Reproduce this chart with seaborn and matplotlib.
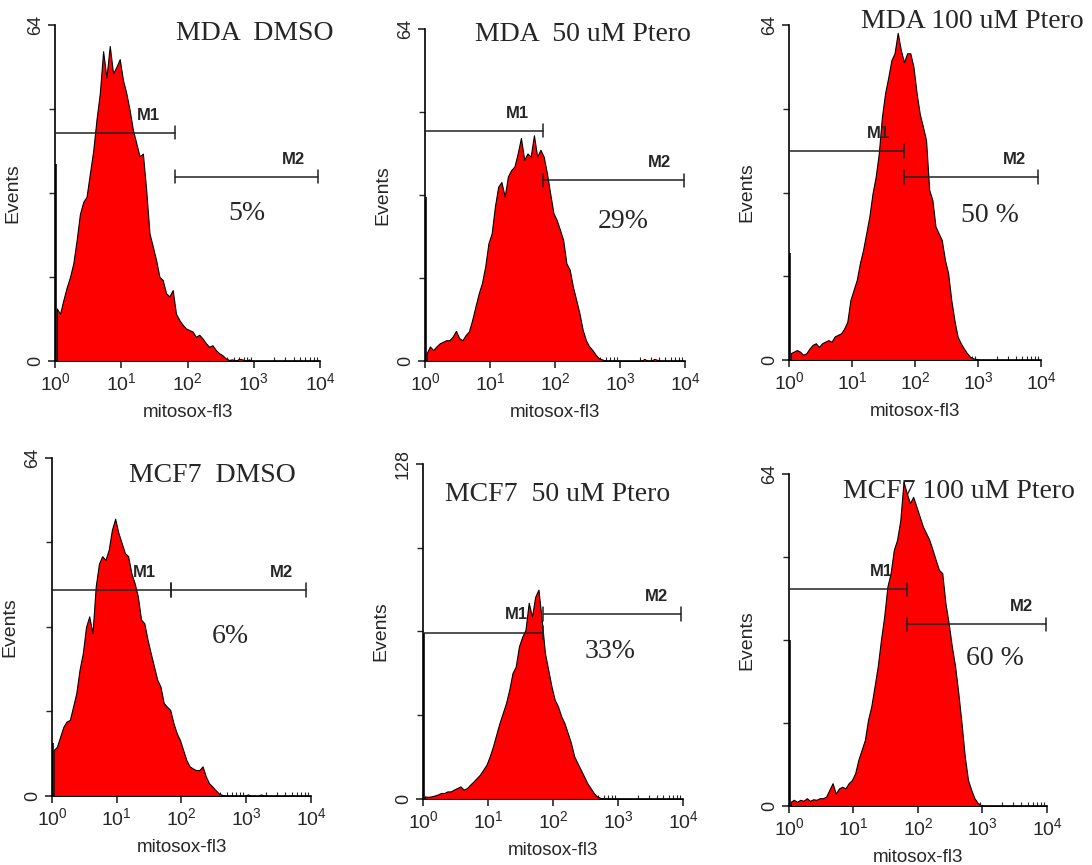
import numpy as np
import seaborn as sns
import matplotlib
matplotlib.use("Agg")
import matplotlib.pyplot as plt
from matplotlib.ticker import LogLocator, FixedLocator, NullFormatter

# ---- data (events per 0.05-decade bin, starting at 10^0) ----
titles = ["MDA  DMSO", "MDA  50 uM Ptero", "MDA 100 uM Ptero",
          "MCF7  DMSO", "MCF7  50 uM Ptero", "MCF7 100 uM Ptero"]
percents = ["5%", "29%", "50 %", "6%", "33%", "60 %"]
ymax = [64, 64, 64, 64, 128, 64]

counts_mda_dmso = [10, 9, 11.6, 14, 16, 18.6, 23, 28, 30.3, 31.3, 35.7, 40, 46, 51, 59, 54,
                   60, 54.8, 56, 57.5, 53.5, 51, 47.8, 44, 41.5, 39, 39.5, 32.6, 24.3, 21.8,
                   19.2, 16, 15.4, 12.9, 12.3, 13.5, 9, 7.8, 6.9, 6.2, 5.9, 5.6, 4.6, 5, 4.3,
                   3.4, 2.7, 3, 2.1, 1.5, 1.1, 0.5, 0.2, 0.3, 0, 0.4, 0.3, 0, 0.3]
counts_mda_50 = [1.5, 2.8, 2.1, 2.8, 3.4, 3.7, 4, 4, 4.7, 5.8, 4.4, 4, 5, 5.7, 7.9, 10.5, 13,
                 15, 18.2, 22.7, 24.6, 29.8, 33.6, 34.5, 31.7, 35.6, 36.8, 37.5, 40, 43, 38.8,
                 40, 39.4, 43.5, 39.4, 40.7, 39.4, 36.2, 32.3, 28.5, 27.2, 25.3, 23.3, 18.8,
                 17.6, 14.3, 11.8, 9.2, 6, 4, 2.8, 2.1, 1.2, 0.5, 0.3, 0, 0, 0, 0, 0, 0, 0,
                 0, 0, 0, 0, 0, 0.4, 0, 0, 0.4, 0.2]
counts_mda_100 = [1.3, 1.6, 1.9, 1.6, 1, 1.3, 2.2, 2.9, 3.2, 2.5, 3.2, 3.5, 3.8, 3.5, 4.5,
                  4.8, 5.1, 6, 7.3, 11.5, 13.4, 15.3, 18.5, 21, 24.2, 27.4, 31.8, 35, 39.5,
                  46.5, 51, 54, 57.3, 58.6, 62.5, 59.2, 56.9, 58.6, 58.6, 56, 51, 47, 44.6,
                  42, 32.5, 30.6, 25.5, 24.2, 22.9, 19.1, 16.6, 11.5, 7.6, 4.5, 3.2, 2.2, 1.3,
                  0.6, 0.3, 0.2]
counts_mcf7_dmso = [8.7, 9.3, 11.2, 13.1, 14.1, 14.4, 16.9, 19.5, 23.9, 27, 32, 34, 30.8,
                    39.7, 44, 45.4, 44.7, 46.6, 50.4, 52.5, 49.8, 47.9, 46, 45.4, 42.2, 40.3,
                    37.8, 33.4, 32.7, 29.6, 27, 24.5, 22, 20.7, 17.6, 16.9, 16.3, 13.8, 11.9,
                    10.6, 8.7, 6.8, 5.6, 5.2, 4.9, 4.9, 5.6, 3.7, 2.4, 1.8, 1.1, 0.5, 0.2, 0,
                    0, 0, 0, 0, 0, 0, 0.3, 0, 0, 0, 0.3]
counts_mcf7_50 = [1, 0.8, 1, 1.3, 1.7, 2.3, 2.3, 2.9, 2.9, 3.6, 4.2, 4.8, 3.6, 4.2, 5.5, 6.7,
                  8, 9.3, 11.2, 13.1, 16.3, 20.1, 24.6, 29, 32.8, 36.6, 41.7, 48.1, 50.6, 58.3,
                  62, 64.6, 75, 69.7, 77.3, 80, 68.4, 55.7, 49.4, 43, 37.9, 35.4, 31.6, 29,
                  25.2, 21.4, 16.3, 13.7, 11.2, 8.7, 6.1, 4.2, 2.3, 1, 0.4, 0.3, 0.2]
counts_mcf7_100 = [0.8, 1.2, 0.8, 1.2, 1, 1.5, 1, 1.3, 1.2, 1.5, 1.5, 1.8, 3.1, 4.4, 2.4, 3.4,
                   3.7, 3.4, 4.4, 5, 6.3, 8.9, 10.8, 12.7, 16.6, 19.2, 23, 26.9, 32, 36.5, 42.3,
                   44.9, 49.4, 51.3, 55.1, 62.5, 60.3, 58.4, 59.6, 57.7, 55.8, 53.9, 52.6, 51.3,
                   49.4, 47.4, 45.5, 44.9, 39.1, 35.2, 30.7, 26.9, 21.7, 15.9, 9.5, 5, 3.1,
                   1.5, 0.6, 0.2]
all_counts = [counts_mda_dmso, counts_mda_50, counts_mda_100,
              counts_mcf7_dmso, counts_mcf7_50, counts_mcf7_100]

# pile-up in the first channel (thick black line on the left edge)
first_channel = [37.5, 31.7, 20.4, 10, 63.4, 32]

# marker gates: M1 from 10^0 to split, M2 from split to end
m_split = [65, 66, 66, 68, 69, 68]
m_end = [9300, 9500, 9100, 8300, 9300, 9700]
m1_y = [43.5, 44.4, 39.9, 39, 63.6, 41.8]
m2_y = [35.1, 34.8, 35, 39, 70.7, 35]

# ---- layout (figure fractions) ----
rects = [[0.0504, 0.5827, 0.2427, 0.3884],
         [0.3892, 0.5827, 0.2381, 0.3838],
         [0.7225, 0.5838, 0.2308, 0.3873],
         [0.0476, 0.0798, 0.2372, 0.3908],
         [0.3874, 0.0763, 0.2381, 0.3873],
         [0.7225, 0.0682, 0.2363, 0.3838]]
title_pos = [(0.755, 0.976), (0.608, 0.982), (0.726, 1.009),
             (0.618, 0.947), (0.519, 0.910), (0.659, 0.946)]
pct_pos = [(10**2.89, 28.1), (10**3.05, 26.9), (10**3.19, 27.7),
           (10**2.75, 30.2), (10**2.87, 56.4), (10**3.2, 28.5)]

sns.set_style("ticks")
plt.rcParams["font.family"] = ["Liberation Sans", "DejaVu Sans"]
plt.rcParams["mathtext.fontset"] = "custom"
plt.rcParams["mathtext.rm"] = "Liberation Sans"

fig = plt.figure(figsize=(10.92, 8.65), dpi=100)

for k in range(6):
    ax = fig.add_axes(rects[k])
    counts = all_counts[k]
    centers = 10 ** (0.025 + 0.05 * np.arange(len(counts)))
    sns.histplot(x=centers, weights=counts, bins=80, binrange=(0, 4), log_scale=True,
                 element="poly", fill=True, color="#ff0000", alpha=1,
                 edgecolor="black", linewidth=0.8, ax=ax, zorder=3)
    ax.vlines(1.0, 0, first_channel[k], color="black", lw=2.6, zorder=4)

    top = ymax[k]
    ax.set_xlim(1, 1e4)
    ax.set_ylim(0, top)

    # gates
    s = m_split[k]
    ax.plot([1, s], [m1_y[k], m1_y[k]], color="#222222", lw=1.1, zorder=5)
    ax.plot([s, s], [m1_y[k] - top * 0.02, m1_y[k] + top * 0.02], color="#222222", lw=1.1, zorder=5)
    ax.plot([s, m_end[k]], [m2_y[k], m2_y[k]], color="#222222", lw=1.1, zorder=5)
    for xe in (s, m_end[k]):
        ax.plot([xe, xe], [m2_y[k] - top * 0.02, m2_y[k] + top * 0.02], color="#222222", lw=1.1, zorder=5)
    ax.text(10 ** (np.log10(s) * 0.78), m1_y[k] + top * 0.03, "M1", fontsize=12,
            fontweight="bold", ha="center", va="bottom", zorder=6)
    ax.text(10 ** (np.log10(m_end[k]) * 0.905), m2_y[k] + top * 0.03, "M2", fontsize=12,
            fontweight="bold", ha="center", va="bottom", zorder=6)

    ax.text(pct_pos[k][0], pct_pos[k][1], percents[k], fontsize=20, family="Liberation Serif",
            ha="center", va="center", zorder=6)
    ax.text(title_pos[k][0], title_pos[k][1], titles[k], transform=ax.transAxes,
            fontsize=20, family="Liberation Serif", ha="center", va="center", zorder=1)

    # axes styling
    sns.despine(ax=ax)
    for sp in ("left", "bottom"):
        ax.spines[sp].set_linewidth(1.2)
        ax.spines[sp].set_color("black")
    ax.set_xticks([1, 10, 100, 1000, 10000])
    ax.set_xticklabels([r"$\mathregular{10^%d}$" % d for d in range(5)], fontsize=14)
    ax.xaxis.set_minor_locator(LogLocator(base=10, subs=np.arange(2, 10)))
    ax.xaxis.set_minor_formatter(NullFormatter())
    ax.tick_params(axis="x", which="major", direction="out", length=5, width=1.2, pad=3)
    ax.tick_params(axis="x", which="minor", direction="in", length=3, width=0.8)
    ax.set_yticks([0, top])
    ax.set_yticklabels(["0", str(top)], rotation=90, va="center", fontsize=13)
    ax.yaxis.set_minor_locator(FixedLocator([top / 4, top / 2, 3 * top / 4]))
    ax.tick_params(axis="y", which="major", direction="out", length=5, width=1.2, pad=3)
    ax.tick_params(axis="y", which="minor", direction="out", length=4, width=1.0)
    ax.set_xlabel("mitosox-fl3", fontsize=13.5, labelpad=7)
    ax.set_ylabel("Events", fontsize=14, labelpad=4)
    ax.set_facecolor("none")

fig.savefig("out.png", dpi=100)
